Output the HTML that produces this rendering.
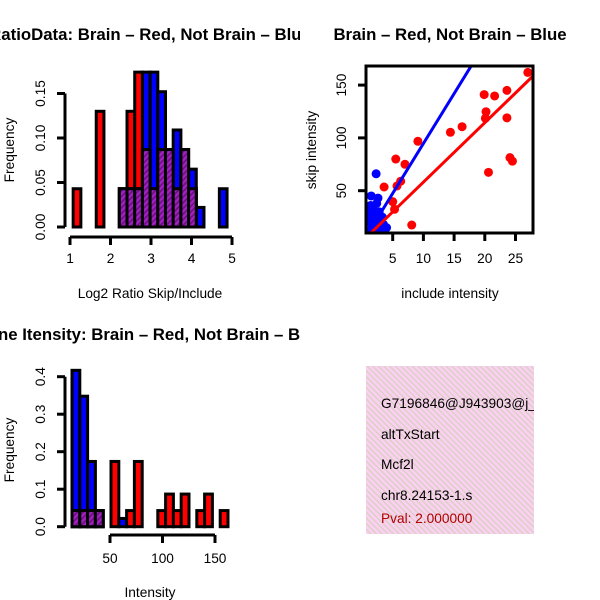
<!DOCTYPE html>
<html><head><meta charset="utf-8"><style>
html,body{margin:0;padding:0;background:#fff}
svg{display:block;font-family:"Liberation Sans",sans-serif}
</style></head><body>
<svg id="c" width="600" height="600" viewBox="0 0 600 600">
<defs>
<pattern id="hatch" width="4" height="4" patternUnits="userSpaceOnUse" patternTransform="rotate(45)">
<rect width="4" height="4" fill="#a020c0"/><rect width="1.6" height="4" fill="#6a1080"/>
</pattern>
<pattern id="pinkhatch" width="4" height="4" patternUnits="userSpaceOnUse" patternTransform="rotate(-45)">
<rect width="4" height="4" fill="#fbd0f2"/><rect width="1.3" height="4" fill="#d8d0c0"/>
</pattern>
<clipPath id="scatclip"><rect x="366" y="66" width="167" height="167"/></clipPath>
<clipPath id="infoclip"><rect x="366" y="366" width="168" height="168"/></clipPath>
<clipPath id="leftclip"><rect x="0" y="0" width="300" height="600"/></clipPath>
</defs>
</svg>
<script>
// ---- Panel 1: ratio histogram ----
const ratioBins = [-6,-3,0,1,2,3,4,5,6,7,8,9,10,13];
const ratioRed  = [0.043,0.13,0.043,0.13,0.174,0.087,0.043,0.087,0.087,0.043,0.087,0.043,0,0];
const ratioBlue = [0,0,0.043,0.043,0.043,0.174,0.174,0.152,0.087,0.109,0.087,0.065,0.022,0.043];
const ratioXTicks = [1,2,3,4,5];
const ratioYTicks = [0,0.05,0.10,0.15];
const ratioYLabels = ["0.00","0.05","0.10","0.15"];
// ---- Panel 2: scatter ----
const redX = [27.0,19.9,21.6,23.6,20.2,20.1,23.6,16.3,14.4,9.1,5.5,7.0,24.1,24.5,20.6,3.6,6.3,5.7,5.0,5.3,8.1];
const redY = [162,141,139.7,145,124.8,118.5,119,110.6,105.3,96.8,80,75,81.3,78,67.4,53.5,59,54.5,39.6,32.4,17.5];
const blueX = [1.5,2.6,2.3,1.2,1.5,2.0,2.5,3.0,1.8,2.2,3.5,1.3,2.8,3.3,4.0,1.6,2.0,2.4,1.1,3.0,1.4,2.7];
const blueY = [45,43,66,30,25,20,15,22,35,28,18,12,30,25,15,18,12,38,20,12,36,9];
const blueFit = [0.3,9.44];
const redFit = [1.8,5.63];
const scatXTicks = [5,10,15,20,25];
const scatYTicks = [50,100,150];
// ---- Panel 3: intensity histogram ----
const intBins = [0,1,2,3,5,6,7,8,11,12,13,14,16,17,19];
const intRed  = [0.043,0.043,0.043,0.043,0.174,0,0.043,0.174,0.043,0.087,0.043,0.087,0.043,0.087,0.043];
const intBlue = [0.417,0.348,0.174,0.043,0,0.022,0,0,0,0,0,0,0,0,0];
const intXTicks = [50,100,150];
const intYTicks = [0,0.1,0.2,0.3,0.4];
const intYLabels = ["0.0","0.1","0.2","0.3","0.4"];
// ---- Panel 4: info ----
const infoLines = ["G7196846@J943903@j_","altTxStart","Mcf2l","chr8.24153-1.s"];

const NS="http://www.w3.org/2000/svg";
const svg=document.getElementById('c');
const FS=13.7, TFS=16.8;
function mk(tag,attrs,parent){const e=document.createElementNS(NS,tag);for(const k in attrs)e.setAttribute(k,attrs[k]);(parent||svg).appendChild(e);return e;}
function txt(s,x,y,attrs,parent){const e=mk('text',Object.assign({x:x,y:y},attrs),parent);e.textContent=s;return e;}

const p1x=v=>70+(v-1)*40.5, p1y=v=>227-v*890;
const p1binX=k=>p1x(2.218+k*0.19);
const g1=mk('g',{'clip-path':'url(#leftclip)'});


function histBars(g,bins,red,blue,bx,bw,py,name){
  bins.forEach((k,i)=>{
    const x=bx(k), w=bw;
    if(red[i]>0){const r=mk('rect',{x:x,y:py(red[i]),width:w,height:py(0)-py(red[i]),fill:'#ff0000',stroke:'#000','stroke-width':3},g);
      }
    if(blue[i]>0){const b=mk('rect',{x:x,y:py(blue[i]),width:w,height:py(0)-py(blue[i]),fill:'#0000ff',stroke:'#000','stroke-width':3},g);
      }
  });
  bins.forEach((k,i)=>{
    const m=Math.min(red[i],blue[i]);
    if(m>0){const p=mk('rect',{x:bx(k),y:py(m),width:bw,height:py(0)-py(m),fill:'url(#hatch)',stroke:'#000','stroke-width':3},g);
      }
  });
}
histBars(g1,ratioBins,ratioRed,ratioBlue,p1binX,7.7,p1y,'ratio');
mk('line',{x1:65,y1:p1y(0),x2:65,y2:p1y(0.15),stroke:'#000','stroke-width':3},g1);
ratioYTicks.forEach((t,i)=>{mk('line',{x1:57,y1:p1y(t),x2:65,y2:p1y(t),stroke:'#000','stroke-width':3},g1);
  const l=txt(ratioYLabels[i],45,p1y(t),{'font-size':FS,'text-anchor':'middle',transform:`rotate(-90 45 ${p1y(t)})`},g1);
  });
mk('line',{x1:p1x(1),y1:237,x2:p1x(5),y2:237,stroke:'#000','stroke-width':3},g1);
ratioXTicks.forEach(t=>{mk('line',{x1:p1x(t),y1:237,x2:p1x(t),y2:245,stroke:'#000','stroke-width':3},g1);
  const l=txt(String(t),p1x(t),263,{'font-size':FS,'text-anchor':'middle'},g1);
  });
let t1=txt('RatioData: Brain \u2013 Red, Not Brain \u2013 Blue',150,40,{'font-size':TFS,'font-weight':'bold','text-anchor':'middle'},g1);

let xl1=txt('Log2 Ratio Skip/Include',150,298,{'font-size':FS,'text-anchor':'middle'},g1);

let yl1=txt('Frequency',14,150,{'font-size':FS,'text-anchor':'middle',transform:'rotate(-90 14 150)'},g1);


const sx=v=>362+v*6.14, sy=v=>243.5-v*1.056;
const g2=mk('g',{});


const pts=mk('g',{'clip-path':'url(#scatclip)'},g2);
redX.forEach((x,i)=>{const c=mk('circle',{cx:sx(x),cy:sy(redY[i]),r:4.5,fill:'#ff0000'},pts);
  });
blueX.forEach((x,i)=>{const c=mk('circle',{cx:sx(x),cy:sy(blueY[i]),r:4.5,fill:'#0000ff'},pts);
  });
const bl=mk('line',{x1:sx(0),y1:sy(blueFit[0]),x2:sx(30),y2:sy(blueFit[0]+blueFit[1]*30),stroke:'#0000ff','stroke-width':3},pts);

const rl=mk('line',{x1:sx(0),y1:sy(redFit[0]),x2:sx(30),y2:sy(redFit[0]+redFit[1]*30),stroke:'#ff0000','stroke-width':3},pts);

mk('rect',{x:366,y:66,width:167,height:167,fill:'none',stroke:'#000','stroke-width':3},g2);
scatXTicks.forEach(t=>{mk('line',{x1:sx(t),y1:233,x2:sx(t),y2:241,stroke:'#000','stroke-width':3},g2);
  const l=txt(String(t),sx(t),263,{'font-size':FS,'text-anchor':'middle'},g2);
  });
scatYTicks.forEach(t=>{mk('line',{x1:358,y1:sy(t),x2:366,y2:sy(t),stroke:'#000','stroke-width':3},g2);
  const l=txt(String(t),346,sy(t),{'font-size':FS,'text-anchor':'middle',transform:`rotate(-90 346 ${sy(t)})`},g2);
  });
let t2=txt('Brain \u2013 Red, Not Brain \u2013 Blue',450,40,{'font-size':TFS,'font-weight':'bold','text-anchor':'middle'},g2);

let xl2=txt('include intensity',450,298,{'font-size':FS,'text-anchor':'middle'},g2);

let yl2=txt('skip intensity',316,150,{'font-size':FS,'text-anchor':'middle',transform:'rotate(-90 316 150)'},g2);


const ix=v=>57.5+v*1.05, iy=v=>526.7-v*375;
const ibinX=k=>72+k*7.8;
const g3=mk('g',{'clip-path':'url(#leftclip)'});


histBars(g3,intBins,intRed,intBlue,ibinX,7.8,iy,'intensity');
mk('line',{x1:65,y1:iy(0),x2:65,y2:iy(0.4),stroke:'#000','stroke-width':3},g3);
intYTicks.forEach((t,i)=>{mk('line',{x1:57,y1:iy(t),x2:65,y2:iy(t),stroke:'#000','stroke-width':3},g3);
  const l=txt(intYLabels[i],45,iy(t),{'font-size':FS,'text-anchor':'middle',transform:`rotate(-90 45 ${iy(t)})`},g3);
  });
mk('line',{x1:ix(50),y1:535,x2:ix(150),y2:535,stroke:'#000','stroke-width':3},g3);
intXTicks.forEach(t=>{mk('line',{x1:ix(t),y1:535,x2:ix(t),y2:543,stroke:'#000','stroke-width':3},g3);
  const l=txt(String(t),ix(t),563,{'font-size':FS,'text-anchor':'middle'},g3);
  });
let t3=txt('Gene Itensity: Brain \u2013 Red, Not Brain \u2013 Blue',150,340,{'font-size':TFS,'font-weight':'bold','text-anchor':'middle'},g3);

let xl3=txt('Intensity',150,597,{'font-size':FS,'text-anchor':'middle'},g3);

let yl3=txt('Frequency',14,450,{'font-size':FS,'text-anchor':'middle',transform:'rotate(-90 14 450)'},g3);


const g4=mk('g',{'clip-path':'url(#infoclip)'});


mk('rect',{x:366,y:366,width:168,height:168,fill:'url(#pinkhatch)'},g4);
const infoY=[408,439,469,500];
infoLines.forEach((s,i)=>{const l=txt(s,381,infoY[i],{'font-size':FS},g4);
  });
const pv=txt('Pval: 2.000000',381,523,{'font-size':FS,fill:'#b00000'},g4);

</script>
</body></html>
